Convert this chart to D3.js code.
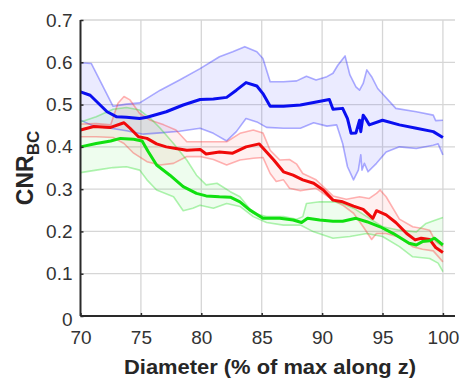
<!DOCTYPE html>
<html><head><meta charset="utf-8">
<script src="https://cdn.jsdelivr.net/npm/d3@7"></script>
<style>
html,body{margin:0;padding:0;background:#fff;}
svg{display:block;font-family:"Liberation Sans",Arial,sans-serif;}
</style></head>
<body>
<svg id="c" width="462" height="380"></svg>
<script>
// ---- data (x = diameter %, y = CNR_BC) ----
const xTicks = [70, 75, 80, 85, 90, 95, 100];
const yTicks = [0, 0.1, 0.2, 0.3, 0.4, 0.5, 0.6, 0.7];
const yTickLabels = ["0", "0.1", "0.2", "0.3", "0.4", "0.5", "0.6", "0.7"];

const blueMean = [[70,0.530],[70.8,0.522],[72.2,0.483],[73,0.471],[73.8,0.470],[74.9,0.467],[75.5,0.470],[77.1,0.483],[78.5,0.499],[79.9,0.512],[81,0.513],[82.1,0.517],[82.9,0.534],[83.7,0.552],[84.6,0.544],[85.1,0.526],[85.7,0.496],[86.8,0.496],[88.2,0.499],[89.3,0.505],[90.6,0.512],[90.9,0.489],[91.7,0.491],[92.1,0.467],[92.4,0.432],[92.8,0.433],[93.1,0.463],[93.2,0.436],[93.4,0.475],[93.6,0.467],[93.9,0.452],[95,0.463],[96.4,0.452],[97.8,0.444],[99.2,0.436],[100,0.422]];
const blueUpper = [[70,0.599],[70.9,0.597],[72.7,0.496],[73.8,0.501],[74.9,0.504],[76.6,0.534],[78.2,0.558],[79.9,0.585],[81.5,0.613],[82.6,0.625],[83.6,0.637],[84.6,0.625],[85.1,0.609],[85.7,0.554],[86.8,0.554],[87.9,0.556],[88.7,0.567],[89.5,0.558],[90.4,0.566],[90.9,0.574],[91.3,0.593],[91.9,0.615],[92.3,0.570],[92.8,0.542],[93.1,0.534],[93.4,0.550],[93.7,0.582],[94.1,0.566],[94.6,0.538],[96.1,0.491],[97.8,0.483],[99.2,0.475],[99.4,0.462],[100,0.463]];
const blueLower = [[70,0.463],[71.1,0.449],[72.5,0.444],[73.8,0.438],[75.2,0.430],[76.6,0.433],[78.2,0.437],[79.9,0.444],[81,0.432],[82.1,0.414],[82.9,0.436],[83.7,0.467],[84.6,0.459],[85.4,0.446],[86.8,0.444],[88.2,0.444],[89.3,0.457],[90.4,0.449],[91.2,0.452],[91.7,0.408],[92.1,0.353],[92.6,0.322],[93.0,0.345],[93.2,0.381],[93.3,0.345],[93.5,0.361],[93.8,0.341],[94.5,0.361],[95.3,0.388],[96.4,0.400],[97.8,0.396],[99.2,0.404],[99.6,0.407],[100,0.381]];

const redMean = [[70,0.440],[71.1,0.448],[72.5,0.446],[73.6,0.457],[74.1,0.444],[74.8,0.424],[75.5,0.420],[76.3,0.407],[77.1,0.400],[77.9,0.396],[78.8,0.392],[79.9,0.394],[80.4,0.383],[81.5,0.388],[82.6,0.385],[83.7,0.400],[84.8,0.407],[85.4,0.388],[86.0,0.369],[86.8,0.341],[87.6,0.333],[88.4,0.322],[89.3,0.314],[90.1,0.298],[90.9,0.274],[91.7,0.270],[92.6,0.260],[93.4,0.252],[94.2,0.231],[94.5,0.249],[95.3,0.239],[96.1,0.221],[97.0,0.195],[97.7,0.180],[98.2,0.184],[98.9,0.181],[99.4,0.162],[100,0.150]];
const redUpper = [[70,0.454],[71.3,0.455],[72.5,0.452],[73.1,0.503],[73.6,0.519],[74.1,0.511],[74.9,0.479],[75.8,0.463],[76.9,0.452],[77.9,0.440],[78.8,0.412],[79.9,0.412],[81,0.412],[82.1,0.412],[83.2,0.432],[84.3,0.440],[85.1,0.433],[85.7,0.392],[86.5,0.369],[87.3,0.370],[87.9,0.359],[88.4,0.337],[89.5,0.322],[90.9,0.284],[92.0,0.276],[93.1,0.282],[93.9,0.278],[94.5,0.290],[94.8,0.298],[95.3,0.282],[96.4,0.229],[97.5,0.211],[98.3,0.207],[98.9,0.203],[99.4,0.176],[100,0.164]];
const redLower = [[70,0.424],[71.3,0.424],[72.7,0.422],[73.6,0.408],[74.4,0.385],[75.5,0.365],[76.6,0.357],[77.7,0.361],[78.8,0.377],[79.9,0.377],[81,0.370],[82.1,0.357],[83.2,0.369],[84.3,0.373],[85.1,0.375],[85.7,0.337],[86.2,0.318],[86.8,0.322],[87.3,0.302],[88.2,0.296],[89.5,0.302],[90.9,0.274],[91.7,0.262],[92.6,0.243],[93.4,0.211],[94.1,0.181],[94.5,0.195],[95.3,0.195],[96.4,0.186],[97.5,0.164],[98.3,0.158],[99.2,0.154],[100,0.128]];

const greenMean = [[70,0.400],[71.3,0.408],[72.5,0.414],[73.3,0.420],[74.4,0.418],[75.1,0.414],[75.6,0.389],[76.3,0.357],[77.4,0.333],[78.5,0.306],[79.6,0.290],[80.4,0.284],[81.5,0.282],[82.4,0.281],[83.2,0.270],[84.0,0.251],[85.1,0.231],[86.5,0.231],[87.6,0.227],[88.3,0.221],[88.8,0.231],[89.8,0.227],[90.9,0.224],[91.7,0.224],[92.8,0.231],[93.7,0.223],[94.8,0.211],[95.9,0.195],[97.2,0.172],[97.8,0.168],[98.3,0.176],[98.9,0.178],[99.3,0.184],[100,0.168]];
const greenUpper = [[70,0.459],[71.3,0.471],[72.7,0.489],[73.8,0.493],[74.9,0.487],[75.8,0.467],[76.6,0.444],[77.7,0.408],[78.8,0.369],[79.6,0.333],[80.4,0.310],[81.3,0.314],[82.4,0.294],[83.2,0.282],[84.3,0.243],[85.4,0.235],[86.8,0.235],[87.9,0.229],[88.4,0.235],[88.7,0.266],[89.8,0.270],[90.9,0.270],[91.7,0.266],[92.6,0.255],[93.7,0.235],[95.0,0.211],[96.4,0.203],[97.8,0.199],[98.6,0.219],[99.4,0.227],[100,0.233]];
const greenLower = [[70,0.339],[71.3,0.345],[72.7,0.351],[73.8,0.353],[74.9,0.345],[75.5,0.322],[76.3,0.298],[77.7,0.282],[78.5,0.249],[79.3,0.255],[79.9,0.262],[81,0.255],[82.1,0.266],[83.2,0.259],[84.3,0.235],[85.4,0.221],[86.8,0.215],[88.2,0.215],[89.3,0.199],[90.9,0.184],[92.3,0.188],[93.7,0.195],[95.0,0.188],[96.4,0.164],[97.5,0.140],[98.9,0.136],[99.6,0.125],[100,0.105]];

const series = [
  {mean: blueMean, upper: blueUpper, lower: blueLower, color: "#0a0ff0", edge: "rgba(40,40,255,0.38)", fill: "rgba(60,60,255,0.10)"},
  {mean: redMean, upper: redUpper, lower: redLower, color: "#f00a0a", edge: "rgba(255,40,40,0.35)", fill: "rgba(255,60,60,0.08)"},
  {mean: greenMean, upper: greenUpper, lower: greenLower, color: "#10e010", edge: "rgba(30,220,30,0.35)", fill: "rgba(40,230,40,0.08)"}
];

// ---- layout ----
const svg = d3.select("#c");
const M = {left: 80.5, right: 455, top: 20, bottom: 316};
const x = d3.scaleLinear().domain([70, 101]).range([M.left, M.right]);
const y = d3.scaleLinear().domain([0, 0.7]).range([M.bottom, M.top]);

// grid
const g = svg.append("g");
g.selectAll(".vg").data(xTicks.filter(d => d > 70)).enter().append("line")
  .attr("x1", d => x(d)).attr("x2", d => x(d)).attr("y1", M.top).attr("y2", M.bottom)
  .attr("stroke", "#d6d6d6").attr("stroke-width", 1.3);
g.selectAll(".hg").data(yTicks.filter(d => d > 0)).enter().append("line")
  .attr("x1", M.left).attr("x2", M.right).attr("y1", d => y(d)).attr("y2", d => y(d))
  .attr("stroke", "#d6d6d6").attr("stroke-width", 1.3);

const line = d3.line().x(d => x(d[0])).y(d => y(d[1]));

// bands
series.forEach(s => {
  const poly = s.upper.concat(s.lower.slice().reverse());
  svg.append("path").attr("d", line(poly) + "Z").attr("fill", s.fill).attr("stroke", "none");
});
series.forEach(s => {
  [s.upper, s.lower].forEach(b => {
    svg.append("path").attr("d", line(b)).attr("fill", "none")
      .attr("stroke", s.edge).attr("stroke-width", 1.6).attr("stroke-linejoin", "round");
  });
});
// means
series.forEach(s => {
  svg.append("path").attr("d", line(s.mean)).attr("fill", "none")
    .attr("stroke", s.color).attr("stroke-width", 3).attr("stroke-linejoin", "round");
});

// axes
const xAxis = d3.axisBottom(x).tickValues(xTicks).tickSize(-3).tickPadding(15).tickFormat(d3.format("d"));
const ax = svg.append("g").attr("transform", `translate(0,${M.bottom})`).call(xAxis);
ax.select(".domain").attr("d", `M${M.left},0H${M.right}`).attr("stroke", "#2a2a2a").attr("stroke-width", 2);
ax.selectAll(".tick line").attr("stroke", "#2a2a2a").attr("stroke-width", 1.5);
ax.selectAll(".tick text").attr("font-size", 19).attr("fill", "#333")
  .attr("font-family", "Liberation Sans, Arial, sans-serif").attr("dy", "0.71em");

const yAxis = d3.axisLeft(y).tickValues(yTicks).tickSize(-3).tickPadding(8)
  .tickFormat((d, i) => yTickLabels[i]);
const ay = svg.append("g").attr("transform", `translate(${M.left},0)`).call(yAxis);
ay.select(".domain").attr("d", `M0,${M.top}V${M.bottom}`).attr("stroke", "#2a2a2a").attr("stroke-width", 2);
ay.selectAll(".tick line").attr("stroke", "#2a2a2a").attr("stroke-width", 1.5);
ay.selectAll(".tick text").attr("font-size", 19).attr("fill", "#333")
  .attr("font-family", "Liberation Sans, Arial, sans-serif");
ay.selectAll(".tick").filter(d => d === 0).select("text").attr("dy", "0.5em");

// labels
svg.append("text").attr("x", 270).attr("y", 374).attr("text-anchor", "middle")
  .attr("font-size", 21).attr("font-weight", "bold").attr("fill", "#262626")
  .attr("textLength", 292).attr("lengthAdjust", "spacingAndGlyphs")
  .text("Diameter (% of max along z)");

const yl = svg.append("text").attr("transform", "translate(33,168) rotate(-90)")
  .attr("text-anchor", "middle").attr("font-size", 23).attr("font-weight", "bold").attr("fill", "#262626");
yl.append("tspan").text("CNR");
yl.append("tspan").attr("dy", 6).attr("font-size", 17).text("BC");
</script>
</body></html>
